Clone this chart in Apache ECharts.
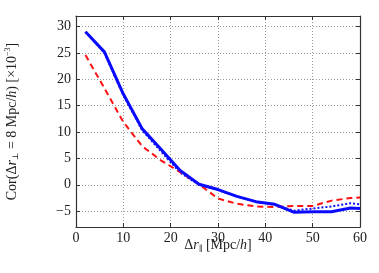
<!DOCTYPE html>
<html><head><meta charset="utf-8">
<script src="https://cdn.jsdelivr.net/npm/echarts@6/dist/echarts.min.js"></script>
<style>html,body{margin:0;padding:0;background:#fff}#c{width:379px;height:273px}</style>
</head><body><div id="c"></div>
<script>
var xs = [2, 6, 10, 14, 18, 22, 26, 30, 34, 38, 42, 46, 50, 54, 58, 60];
var blueSolid = [29.0, 25.2, 17.2, 10.6, 6.7, 2.7, 0.1, -0.9, -2.2, -3.2, -3.7, -5.2, -5.1, -5.1, -4.4, -4.5];
var blueDotted = [29.0, 25.0, 17.0, 10.3, 6.3, 2.3, 0.0, -1.0, -2.2, -3.2, -3.8, -4.9, -4.5, -4.1, -3.5, -3.7];
var redDashed = [24.6, 18.3, 11.9, 7.3, 4.6, 2.4, 0.1, -2.6, -3.6, -4.1, -4.2, -4.0, -4.0, -3.0, -2.5, -2.4];
var xTicks = [0, 10, 20, 30, 40, 50, 60];
var yTicks = [-5, 0, 5, 10, 15, 20, 25, 30];

function pairs(v){ return xs.map(function(x,i){ return [x, v[i]]; }); }
var FF = '"Liberation Serif", "DejaVu Serif", serif';
var chart = echarts.init(document.getElementById('c'), null, {renderer:'canvas'});
var gridLine = {show:true, lineStyle:{color:'#9a9a9a', type:[1,2], width:1}};
var axLine = {show:true, onZero:false, lineStyle:{color:'#333', width:1.2}};
var xTick = {show:true, inside:true, length:4, lineStyle:{color:'#333', width:1}, customValues:xTicks};
var yTick = {show:true, inside:true, length:4, lineStyle:{color:'#333', width:1}, customValues:yTicks};
chart.setOption({
  animation:false,
  grid:{left:76, right:19, top:16, bottom:46, outerBoundsMode:'none', containLabel:false},
  xAxis:[{
    type:'value', min:0, max:60,
    axisLine:axLine, axisTick:xTick, splitLine:gridLine,
    axisLabel:{color:'#222', fontFamily:FF, fontSize:14, margin:4, customValues:xTicks},
    name:'{a|Δ}{i|r}{s|∥}{a| [Mpc/}{i|h}{a|]}', nameLocation:'middle', nameGap:10, nameMoveOverlap:false,
    nameTextStyle:{rich:{
      a:{fontFamily:FF, fontSize:14, color:'#222'},
      i:{fontFamily:FF, fontSize:14, fontStyle:'italic', color:'#222'},
      s:{fontFamily:FF, fontSize:8, color:'#222', padding:[8,0,0,0]}
    }}
  },{
    type:'value', min:0, max:60, position:'top',
    axisLine:axLine, axisTick:xTick, axisLabel:{show:false}, splitLine:{show:false}
  }],
  yAxis:[{
    type:'value', min:-8, max:32,
    axisLine:axLine, axisTick:yTick, splitLine:gridLine,
    axisLabel:{color:'#222', fontFamily:FF, fontSize:14, margin:5, customValues:yTicks,
      formatter:function(v){ return v<0 ? '\u2212'+(-v) : ''+v; }},
    name:'{a|Cor(Δ}{i|r}{s|⊥}{a| = 8 Mpc/}{i|h}{a|) [×10}{p|−3}{a|]}',
    nameLocation:'middle', nameGap:56, nameMoveOverlap:false,
    nameTextStyle:{rich:{
      a:{fontFamily:FF, fontSize:14, color:'#222'},
      i:{fontFamily:FF, fontSize:14, fontStyle:'italic', color:'#222'},
      s:{fontFamily:FF, fontSize:8, color:'#222', padding:[8,0,0,0]},
      p:{fontFamily:FF, fontSize:8, color:'#222', padding:[0,0,8,0]}
    }}
  },{
    type:'value', min:-8, max:32, position:'right',
    axisLine:axLine, axisTick:yTick, axisLabel:{show:false}, splitLine:{show:false}
  }],
  series:[
    {type:'line', data:pairs(blueDotted), symbol:'none', lineStyle:{color:'#1010ff', width:2, type:[2,2]}, z:2},
    {type:'line', data:pairs(redDashed), symbol:'none', lineStyle:{color:'#ff1010', width:2, type:[6,4]}, z:3},
    {type:'line', data:pairs(blueSolid), symbol:'none', lineStyle:{color:'#0a0aff', width:3}, z:4}
  ]
});
</script></body></html>
